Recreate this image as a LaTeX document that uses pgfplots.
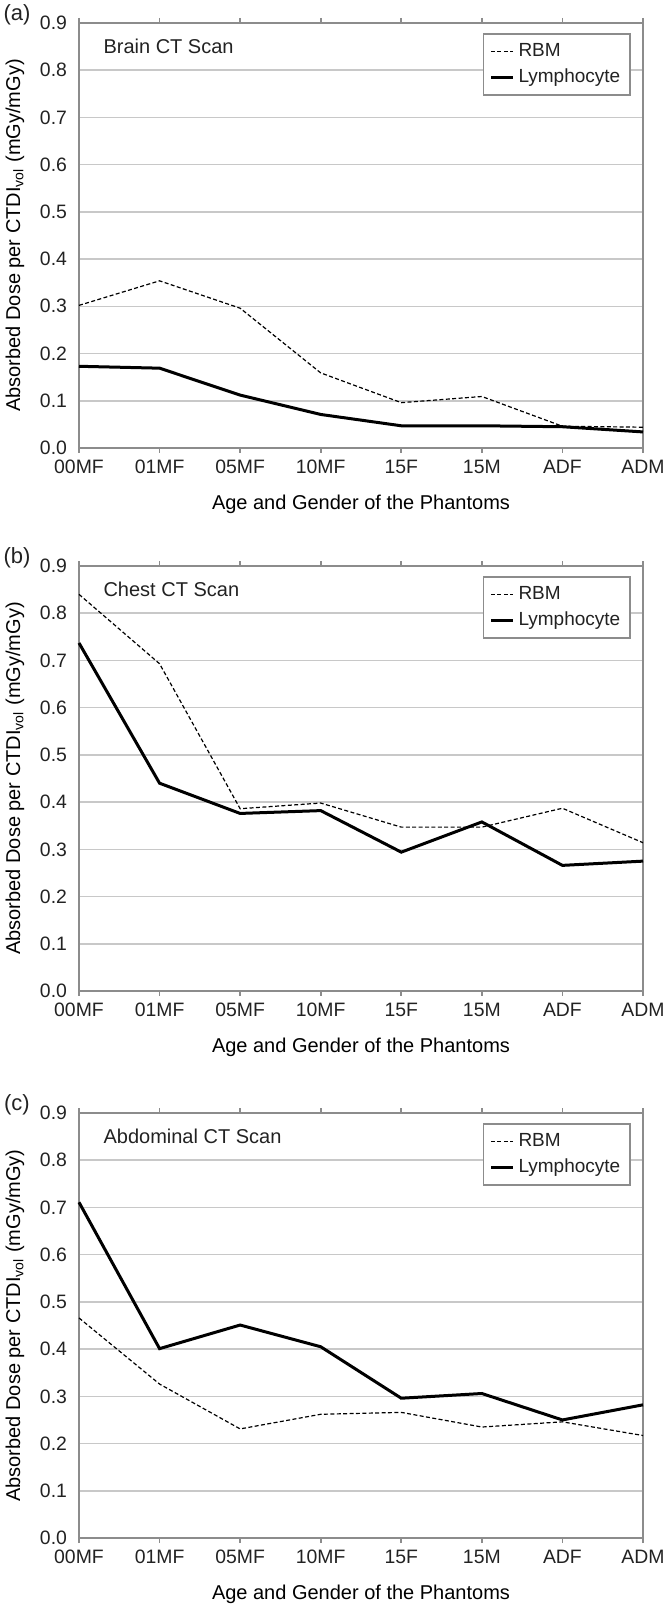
\documentclass[border=0pt]{standalone}
\usepackage{pgfplots}
\pgfplotsset{compat=1.18}
\usepackage{fontspec}
\setmainfont{Liberation Sans}
\definecolor{axgray}{HTML}{8C8C8C}
\definecolor{gridgray}{HTML}{C8C8C8}
\definecolor{txt}{HTML}{222222}

\pgfplotsset{
 panel/.style={
  scale only axis, width=282pt, height=212.5pt,
  xmin=0, xmax=7, ymin=0, ymax=0.9,
  xtick={0,1,2,3,4,5,6,7},
  xticklabels={00MF,01MF,05MF,10MF,15F,15M,ADF,ADM},
  ytick={0,0.1,0.2,0.3,0.4,0.5,0.6,0.7,0.8,0.9},
  ymajorgrids, grid style={gridgray, line width=0.75pt},
  axis line style={axgray, line width=1pt},
  tick align=outside, major tick length=2.5pt,
  xtick style={axgray, line width=0.8pt}, ytick style={draw=none},
  yticklabel style={/pgf/number format/.cd, fixed, fixed zerofill, precision=1},
  /pgf/number format/assume math mode=true,
  tick label style={font=\fontsize{9.7}{11}\selectfont, text=txt},
  label style={font=\fontsize{9.5}{11}\selectfont, text=txt},
  xlabel={Age and Gender of the Phantoms},
  ylabel={Absorbed Dose per CTDI\textsubscript{vol} (mGy/mGy)},
  every axis x label/.style={at={(axis description cs:0.5,-0.132)}, anchor=center},
  every axis y label/.style={at={(axis description cs:-0.1135,0.5)}, rotate=90, anchor=center},
  legend style={at={(axis description cs:0.979,0.976)}, anchor=north east,
    draw=axgray, line width=0.9pt, fill=white,
    font=\fontsize{9.5}{11}\selectfont, text=txt,
    inner xsep=3pt, inner ysep=2.5pt, row sep=1pt,
    cells={anchor=west}},
  legend image code/.code={\draw[#1] (0pt,0pt) -- (11pt,0pt);},
  clip=false,
 },
 rbm/.style={black, line width=0.6pt, dash pattern=on 2pt off 1.2pt},
 lym/.style={black, line width=1.5pt},
}

\begin{document}
\begin{tikzpicture}
\path[use as bounding box] (0,0) rectangle (332pt,-804.5pt);

% (a) Brain
\begin{axis}[panel, at={(39.5pt,-11.5pt)}, anchor=north west]
\addplot[rbm] coordinates {(0,0.302) (1,0.354) (2,0.296) (3,0.159) (4,0.096) (5,0.109) (6,0.046) (7,0.044)};
\addlegendentry{RBM}
\addplot[lym] coordinates {(0,0.173) (1,0.169) (2,0.112) (3,0.071) (4,0.047) (5,0.047) (6,0.045) (7,0.034)};
\addlegendentry{Lymphocyte}
\node[anchor=west, font=\fontsize{10}{12}\selectfont, text=txt] at (axis description cs:0.031,0.946) {Brain CT Scan};
\node[anchor=center, font=\fontsize{11}{13}\selectfont, text=txt] at (axis description cs:-0.11,1.019) {(a)};
\end{axis}

% (b) Chest
\begin{axis}[panel, at={(39.5pt,-283pt)}, anchor=north west]
\addplot[rbm] coordinates {(0,0.840) (1,0.693) (2,0.386) (3,0.398) (4,0.347) (5,0.347) (6,0.387) (7,0.314)};
\addlegendentry{RBM}
\addplot[lym] coordinates {(0,0.737) (1,0.440) (2,0.376) (3,0.382) (4,0.294) (5,0.358) (6,0.266) (7,0.275)};
\addlegendentry{Lymphocyte}
\node[anchor=west, font=\fontsize{10}{12}\selectfont, text=txt] at (axis description cs:0.031,0.946) {Chest CT Scan};
\node[anchor=center, font=\fontsize{11}{13}\selectfont, text=txt] at (axis description cs:-0.11,1.019) {(b)};
\end{axis}

% (c) Abdominal
\begin{axis}[panel, at={(39.5pt,-556.5pt)}, anchor=north west]
\addplot[rbm] coordinates {(0,0.466) (1,0.326) (2,0.231) (3,0.262) (4,0.266) (5,0.235) (6,0.246) (7,0.217)};
\addlegendentry{RBM}
\addplot[lym] coordinates {(0,0.711) (1,0.401) (2,0.451) (3,0.405) (4,0.296) (5,0.306) (6,0.250) (7,0.282)};
\addlegendentry{Lymphocyte}
\node[anchor=west, font=\fontsize{10}{12}\selectfont, text=txt] at (axis description cs:0.031,0.946) {Abdominal CT Scan};
\node[anchor=center, font=\fontsize{11}{13}\selectfont, text=txt] at (axis description cs:-0.11,1.019) {(c)};
\end{axis}
\end{tikzpicture}
\end{document}
